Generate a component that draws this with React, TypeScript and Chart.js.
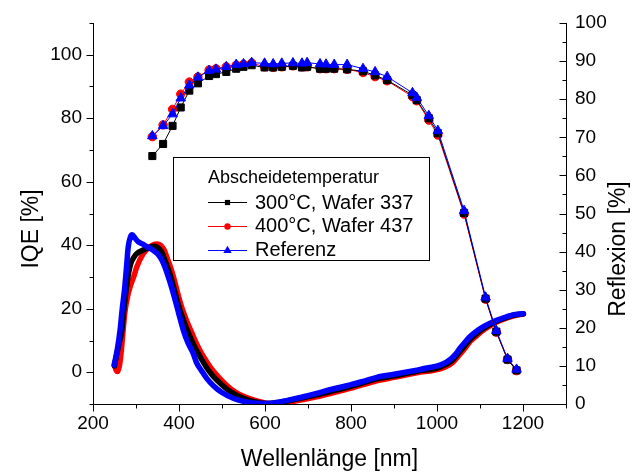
import React, { useEffect, useRef } from "react";
import { Chart, registerables } from "chart.js";

Chart.register(...registerables);

// ---------- data ----------
// IQE (left axis), measured points
const iqeNm = [338, 363, 385, 404, 424, 444, 470, 486, 510, 533, 550, 569, 599, 619, 639, 665, 686, 698, 728, 742, 761, 791, 828, 856, 884, 943, 953, 981, 1002, 1063, 1113, 1138, 1164, 1185];
const iqe300 = [68.1, 71.9, 77.6, 83.4, 88.7, 91.0, 93.3, 93.9, 94.6, 95.6, 96.2, 96.7, 96.0, 96.0, 96.2, 96.5, 96.0, 96.2, 95.6, 95.6, 95.6, 95.4, 94.8, 93.5, 92.0, 87.3, 85.7, 80.0, 75.3, 50.2, 23.2, 12.8, 4.0, 0.6];
const iqe400 = [74.2, 77.9, 82.8, 87.6, 91.4, 93.0, 95.2, 95.6, 96.2, 96.7, 97.0, 97.4, 96.2, 96.0, 96.2, 96.5, 96.2, 96.2, 95.6, 95.6, 95.6, 95.4, 94.4, 93.1, 91.8, 86.8, 85.5, 79.4, 74.7, 49.8, 23.0, 12.6, 4.0, 0.5];
const iqeRef = [74.4, 77.6, 81.3, 86.3, 90.4, 92.9, 95.0, 95.4, 96.2, 96.9, 97.1, 97.5, 97.3, 97.1, 97.3, 97.4, 97.3, 97.5, 97.1, 97.0, 96.9, 96.9, 95.6, 94.6, 93.1, 88.0, 86.5, 80.8, 76.1, 50.9, 23.6, 13.1, 4.3, 0.9];

// Reflexion (right axis)
const refl300Nm = [250, 255, 261, 267, 272, 278, 283, 288, 295, 302, 317, 336, 344, 352, 360, 367, 375, 383, 392, 402, 412, 422, 435, 449, 464, 480, 500, 520, 540, 565, 590, 605, 630, 660, 720, 760, 798, 860, 900, 953, 1007, 1034, 1053, 1065, 1077, 1092, 1108, 1127, 1147, 1177, 1201];
const refl300 = [10.0, 13, 16, 19.4, 25, 30.8, 34.5, 36.9, 38.5, 39.5, 40.4, 41.3, 41.4, 40.9, 39.8, 37.8, 35.3, 32.5, 28.7, 24.7, 21.5, 18.6, 15.3, 12.4, 9.6, 7.2, 5.0, 3.2, 2.0, 0.9, 0.3, 0.1, 0.4, 1.0, 2.4, 3.5, 4.6, 6.6, 7.4, 8.6, 9.7, 11.3, 13.8, 15.4, 17.0, 18.5, 19.8, 21.1, 22.1, 23.3, 23.65];

const refl400Nm = [251, 254, 257, 261, 265, 269, 274, 280, 287, 295, 302, 317, 333, 347, 355, 360, 366, 371, 379, 387, 396, 406, 418, 430, 443, 457, 474, 491, 510, 530, 550, 575, 600, 615, 640, 670, 720, 760, 798, 860, 900, 953, 1007, 1034, 1053, 1065, 1077, 1092, 1108, 1127, 1147, 1177, 1201];
const refl400 = [9.8, 8.8, 8.5, 9.8, 13, 18, 24, 28, 31, 33.5, 36.0, 39.5, 41.3, 42.0, 41.8, 41.3, 40.3, 38.7, 36.3, 33.4, 29.5, 25.5, 21.8, 18.6, 15.3, 12.4, 9.5, 7.2, 5.0, 3.2, 2.0, 1.0, 0.3, 0.1, 0.3, 0.8, 1.9, 3.0, 4.1, 6.1, 7.0, 8.2, 9.2, 10.7, 13.0, 14.6, 16.4, 17.9, 19.4, 20.8, 21.9, 23.1, 23.6];

const reflRefNm = [249, 256, 263, 268, 274, 278, 282, 287, 291, 298, 305, 315, 325, 335, 344, 352, 360, 367, 375, 383, 391, 400, 410, 421, 433, 441, 452, 464, 480, 500, 526, 550, 573, 595, 620, 650, 685, 720, 760, 798, 830, 860, 900, 953, 980, 1007, 1022, 1034, 1045, 1053, 1065, 1077, 1092, 1108, 1127, 1147, 1162, 1177, 1190, 1201];
const reflRef = [10.2, 14, 19.4, 25, 30.8, 36, 41.3, 43.8, 44.4, 43.5, 42.6, 42.0, 41.3, 40.7, 40.0, 39.2, 37.8, 36, 33.4, 30.5, 27.3, 23.5, 19.4, 16, 13.3, 10.8, 8.8, 6.8, 4.8, 3.0, 1.5, 0.7, 0.3, 0.1, 0.3, 0.9, 1.8, 2.8, 4.0, 5.0, 6.0, 7.0, 7.8, 8.9, 9.5, 10.2, 11, 12.0, 13.3, 14.6, 16.2, 17.7, 19.1, 20.3, 21.4, 22.3, 22.9, 23.4, 23.6, 23.7];

// ticks & labels
const leftTickValues = [0, 20, 40, 60, 80, 100];
const rightTickValues = [0, 10, 20, 30, 40, 50, 60, 70, 80, 90, 100];
const xTickValues = [200, 400, 600, 800, 1000, 1200];
const xTitle = "Wellenlänge [nm]";
const leftTitle = "IQE [%]";
const rightTitle = "Reflexion [%]";
const legendTitle = "Abscheidetemperatur";
const seriesNames = ["300°C, Wafer 337", "400°C, Wafer 437", "Referenz"];

// ---------- styles ----------
const FONT = '"Liberation Sans", Arial, Helvetica, sans-serif';
const BLACK = "#000000";
const RED = "#ff0000";
const BLUE = "#0000ff";

const pts = (xs: number[], ys: number[]) => xs.map((x, i) => ({ x, y: ys[i] }));

function drawMarker(ctx: CanvasRenderingContext2D, style: string, x: number, y: number, r: number, color: string) {
  ctx.fillStyle = color;
  ctx.beginPath();
  if (style === "rect") {
    ctx.rect(x - r, y - r, 2 * r, 2 * r);
  } else if (style === "circle") {
    ctx.arc(x, y, r, 0, Math.PI * 2);
  } else {
    ctx.moveTo(x, y - r);
    ctx.lineTo(x + r * 0.866, y + r * 0.5);
    ctx.lineTo(x - r * 0.866, y + r * 0.5);
    ctx.closePath();
  }
  ctx.fill();
}

const decorPlugin = {
  id: "decor",
  afterDraw(chart: any) {
    const ctx: CanvasRenderingContext2D = chart.ctx;
    const { left, right, top, bottom } = chart.chartArea;
    const x = chart.scales.x;
    const y = chart.scales.y;
    const yR = chart.scales.yR;
    ctx.save();
    ctx.strokeStyle = "#000";
    ctx.lineWidth = 1;
    const L = Math.round(left) + 0.5;
    const R = Math.round(right) + 0.5;
    const B = Math.round(bottom) + 0.5;
    ctx.beginPath();
    ctx.moveTo(L, top);
    ctx.lineTo(L, B);
    ctx.lineTo(R, B);
    ctx.moveTo(R, top);
    ctx.lineTo(R, B);
    for (let v = -10; v <= 110; v += 10) {
      const py = Math.round(y.getPixelForValue(v)) + 0.5;
      const len = v % 20 === 0 ? 7 : 4;
      ctx.moveTo(L - len, py);
      ctx.lineTo(L, py);
    }
    for (let v = 0; v <= 100; v += 5) {
      const py = Math.round(yR.getPixelForValue(v)) + 0.5;
      const len = v % 10 === 0 ? 7 : 4;
      ctx.moveTo(R, py);
      ctx.lineTo(R - len, py);
    }
    for (let v = 200; v <= 1300; v += 100) {
      const px = Math.round(x.getPixelForValue(v)) + 0.5;
      const len = v % 200 === 0 ? 7 : 4;
      ctx.moveTo(px, B);
      ctx.lineTo(px, B + len);
    }
    ctx.stroke();

    // axis titles
    ctx.fillStyle = "#000";
    ctx.font = `23px ${FONT}`;
    ctx.textAlign = "center";
    ctx.textBaseline = "middle";
    ctx.fillText(xTitle, (left + right) / 2, 460);
    ctx.save();
    ctx.translate(32, 229);
    ctx.rotate(-Math.PI / 2);
    ctx.fillText(leftTitle, 0, 0);
    ctx.restore();
    ctx.save();
    ctx.translate(619, 249);
    ctx.rotate(-Math.PI / 2);
    ctx.fillText(rightTitle, 0, 0);
    ctx.restore();

    // legend box
    const bx = 173.5, by = 157.5, bw = 256, bh = 103;
    ctx.fillStyle = "#fff";
    ctx.fillRect(bx, by, bw, bh);
    ctx.strokeStyle = "#000";
    ctx.strokeRect(bx, by, bw, bh);
    ctx.fillStyle = "#000";
    ctx.textAlign = "left";
    ctx.font = `18px ${FONT}`;
    ctx.fillText(legendTitle, 208, 178.5);
    const colors = [BLACK, RED, BLUE];
    const styles = ["rect", "circle", "triangle"];
    const sizes = [2.6, 3.2, 4.8];
    const rows = [202, 225.5, 249.5];
    ctx.font = `20px ${FONT}`;
    for (let i = 0; i < 3; i++) {
      const ry = rows[i];
      ctx.strokeStyle = colors[i];
      ctx.beginPath();
      ctx.moveTo(208, Math.round(ry) + 0.5);
      ctx.lineTo(247, Math.round(ry) + 0.5);
      ctx.stroke();
      drawMarker(ctx, styles[i], 227.5, Math.round(ry) + 0.5, sizes[i], colors[i]);
      ctx.fillStyle = "#000";
      ctx.fillText(seriesNames[i], 255, ry + 1);
    }
    ctx.restore();
  },
};

export default function App() {
  const canvasRef = useRef<HTMLCanvasElement | null>(null);

  useEffect(() => {
    if (!canvasRef.current) return;
    const reflStyle = {
      yAxisID: "yR",
      borderWidth: 5.5,
      pointRadius: 0,
      cubicInterpolationMode: "monotone" as const,
      borderCapStyle: "round" as const,
      borderJoinStyle: "round" as const,
      fill: false,
    };
    const iqeStyle = {
      yAxisID: "y",
      borderWidth: 1,
      pointBorderWidth: 1,
      fill: false,
    };
    const chart = new Chart(canvasRef.current, {
      type: "line",
      data: {
        datasets: [
          { ...iqeStyle, label: seriesNames[0], data: pts(iqeNm, iqe300), borderColor: BLACK, backgroundColor: BLACK, pointBackgroundColor: BLACK, pointBorderColor: BLACK, pointStyle: "rect", pointRadius: 5, order: 1 },
          { ...iqeStyle, label: seriesNames[1], data: pts(iqeNm, iqe400), borderColor: RED, backgroundColor: RED, pointBackgroundColor: RED, pointBorderColor: RED, pointStyle: "circle", pointRadius: 4.2, order: 2 },
          { ...iqeStyle, label: seriesNames[2], data: pts(iqeNm, iqeRef), borderColor: BLUE, backgroundColor: BLUE, pointBackgroundColor: BLUE, pointBorderColor: BLUE, pointStyle: "triangle", pointRadius: 5.5, order: 0 },
          { ...reflStyle, label: seriesNames[0] + " R", data: pts(refl300Nm, refl300), borderColor: BLACK, order: 4 },
          { ...reflStyle, label: seriesNames[1] + " R", data: pts(refl400Nm, refl400), borderColor: RED, order: 5 },
          { ...reflStyle, label: seriesNames[2] + " R", data: pts(reflRefNm, reflRef), borderColor: BLUE, order: 3 },
        ],
      },
      options: {
        animation: false,
        responsive: false,
        devicePixelRatio: 1,
        layout: { padding: { top: 23, left: 0, right: 0, bottom: 0 } },
        plugins: { legend: { display: false }, tooltip: { enabled: false } },
        scales: {
          x: {
            type: "linear",
            min: 200,
            max: 1300,
            afterBuildTicks: (s: any) => { s.ticks = xTickValues.map((v) => ({ value: v })); },
            ticks: { font: { family: FONT, size: 19 }, color: "#000", padding: 8, callback: (v: any) => String(v), maxRotation: 0 },
            grid: { display: false, drawTicks: false },
            border: { display: false },
            afterFit: (s: any) => { s.height = 71; },
          },
          y: {
            type: "linear",
            position: "left",
            min: -10,
            max: 110,
            afterBuildTicks: (s: any) => { s.ticks = leftTickValues.map((v) => ({ value: v })); },
            ticks: { font: { family: FONT, size: 19 }, color: "#000", padding: 11, callback: (v: any) => String(v) },
            grid: { display: false, drawTicks: false },
            border: { display: false },
            afterFit: (s: any) => { s.width = 93; },
          },
          yR: {
            type: "linear",
            position: "right",
            min: 0,
            max: 100,
            afterBuildTicks: (s: any) => { s.ticks = rightTickValues.map((v) => ({ value: v })); },
            ticks: { font: { family: FONT, size: 19 }, color: "#000", padding: 9, callback: (v: any) => String(v) },
            grid: { display: false, drawTicks: false },
            border: { display: false },
            afterFit: (s: any) => { s.width = 66; },
          },
        },
      },
      plugins: [decorPlugin],
    });
    return () => chart.destroy();
  }, []);

  return (
    <div style={{ position: "fixed", left: 0, top: 0, width: 632, height: 475, background: "#fff" }}>
      <canvas ref={canvasRef} width={632} height={475} style={{ display: "block" }} />
    </div>
  );
}
